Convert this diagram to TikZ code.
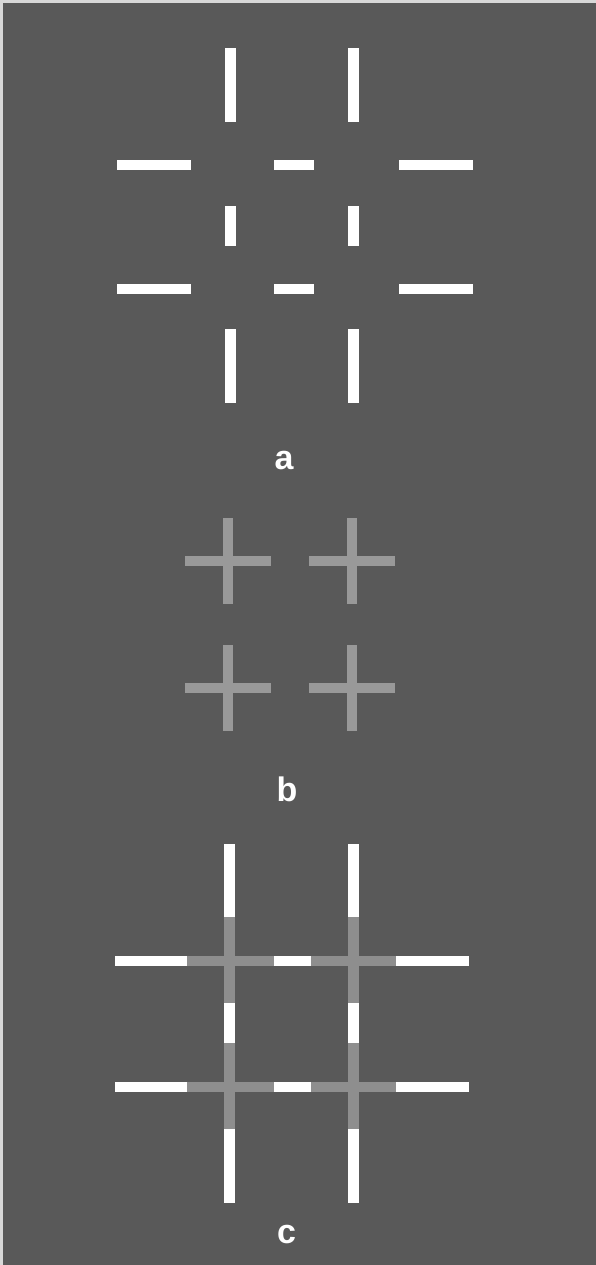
\documentclass[tikz,border=0pt]{standalone}
\usepackage{fontspec}
\setmainfont{Liberation Sans}
\definecolor{bgc}{HTML}{595959}
\definecolor{crossb}{HTML}{999999}
\definecolor{crossc}{HTML}{8E8E8E}
\definecolor{edgec}{HTML}{D8D8D8}
\tikzset{
  whitebar/.style={fill=white,draw=none},
  graybarb/.style={fill=crossb,draw=none},
  graybarc/.style={fill=crossc,draw=none},
  panellabel/.style={text=white,font=\fontsize{34}{36}\selectfont\bfseries,inner sep=0pt,anchor=base}
}
\begin{document}
\begin{tikzpicture}[x=1pt,y=-1pt]
\useasboundingbox (0,0) rectangle (596,1265);
\fill[bgc] (0,0) rectangle (596,1265);
\fill[edgec] (0,0) rectangle (3,1265);
\fill[edgec] (0,0) rectangle (596,3);
% ---------- panel a ----------
\foreach \cx in {230.5,353.5}{
  \fill[whitebar] (\cx-5.5,48) rectangle (\cx+5.5,122);
  \fill[whitebar] (\cx-5.5,206) rectangle (\cx+5.5,246);
  \fill[whitebar] (\cx-5.5,329) rectangle (\cx+5.5,403);
}
\foreach \cy in {165,289}{
  \fill[whitebar] (117,\cy-5) rectangle (191,\cy+5);
  \fill[whitebar] (274,\cy-5) rectangle (314,\cy+5);
  \fill[whitebar] (399,\cy-5) rectangle (473,\cy+5);
}
\node[panellabel] (la) at (284,469) {a};
% ---------- panel b ----------
\foreach \cx in {228,352}{
  \foreach \cy in {561,688}{
    \fill[graybarb] (\cx-43,\cy-5) rectangle (\cx+43,\cy+5);
    \fill[graybarb] (\cx-5,\cy-43) rectangle (\cx+5,\cy+43);
  }
}
\node[panellabel] (lb) at (287,801) {b};
% ---------- panel c ----------
\foreach \cx in {229.6,353}{
  \fill[graybarc] (\cx-5.5,917) rectangle (\cx+5.5,1003);
  \fill[graybarc] (\cx-5.5,1043) rectangle (\cx+5.5,1129);
}
\foreach \cy in {960.7,1087}{
  \fill[graybarc] (187,\cy-5) rectangle (274,\cy+5);
  \fill[graybarc] (311,\cy-5) rectangle (396,\cy+5);
}
\foreach \cx in {229.6,353}{
  \fill[whitebar] (\cx-5.5,844) rectangle (\cx+5.5,917);
  \fill[whitebar] (\cx-5.5,1003) rectangle (\cx+5.5,1043);
  \fill[whitebar] (\cx-5.5,1129) rectangle (\cx+5.5,1203);
}
\foreach \cy in {960.7,1087}{
  \fill[whitebar] (115,\cy-5) rectangle (187,\cy+5);
  \fill[whitebar] (274,\cy-5) rectangle (311,\cy+5);
  \fill[whitebar] (396,\cy-5) rectangle (469,\cy+5);
}
\node[panellabel] (lc) at (286.5,1243) {c};
\end{tikzpicture}
\end{document}
